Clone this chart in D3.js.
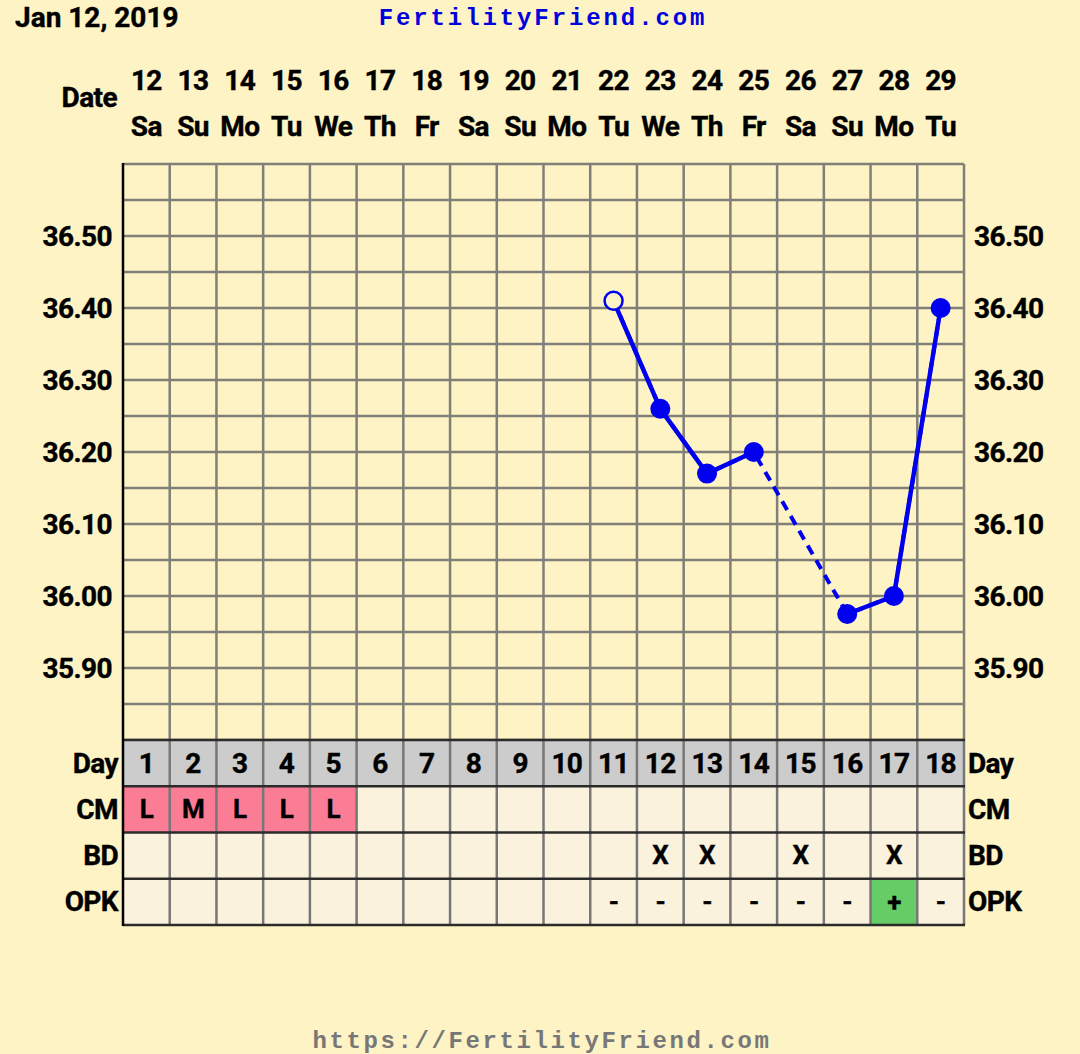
<!DOCTYPE html>
<html>
<head>
<meta charset="utf-8">
<script src="https://cdn.jsdelivr.net/npm/d3@7"></script>
<style>
  body { margin: 0; background: #fdf3c5; }
  svg { display: block; }
  .lbl { font-family: Roboto, "Liberation Sans", sans-serif; font-weight: bold; font-size: 28px; letter-spacing: -0.6px; fill: #000; stroke: #000; stroke-width: 0.4px; }
  .mono { font-family: "Courier New", "Liberation Mono", monospace; font-weight: bold; }
</style>
</head>
<body>
<svg id="chart"></svg>
<script>
document.addEventListener("DOMContentLoaded", function() {
  const width = 1080;
  const height = 1054;

  // chart data
  const cycleDays = [1, 2, 3, 4, 5, 6, 7, 8, 9, 10, 11, 12, 13, 14, 15, 16, 17, 18];
  const dates = [12, 13, 14, 15, 16, 17, 18, 19, 20, 21, 22, 23, 24, 25, 26, 27, 28, 29];
  const weekdays = ["Sa", "Su", "Mo", "Tu", "We", "Th", "Fr", "Sa", "Su", "Mo", "Tu", "We", "Th", "Fr", "Sa", "Su", "Mo", "Tu"];
  const temps = [null, null, null, null, null, null, null, null, null, null, 36.41, 36.26, 36.17, 36.20, null, 35.975, 36.00, 36.40];
  const openPoints = [11];
  const cm = ["L", "M", "L", "L", "L", "", "", "", "", "", "", "", "", "", "", "", "", ""];
  const bd = ["", "", "", "", "", "", "", "", "", "", "", "X", "X", "", "X", "", "X", ""];
  const opk = ["", "", "", "", "", "", "", "", "", "", "-", "-", "-", "-", "-", "-", "+", "-"];
  const tempTicks = [36.50, 36.40, 36.30, 36.20, 36.10, 36.00, 35.90];

  const bg = "#fdf3c5";
  const blue = "#0000ee";

  let svg = d3.select("#chart")
              .attr("width", width)
              .attr("height", height);

  let x = d3.scaleBand()
            .domain(cycleDays)
            .range([123, 964]);
  let y = d3.scaleLinear()
            .domain([35.80, 36.60])
            .range([740, 164]);
  let cx = d => x(d) + x.bandwidth() / 2;

  //titles
  svg.append("text")
     .attr("class", "lbl")
     .attr("x", 15).attr("y", 27)
     .style("letter-spacing", "0px")
     .text("Jan 12, 2019");

  svg.append("text")
     .attr("class", "mono")
     .attr("x", 543).attr("y", 25)
     .attr("text-anchor", "middle")
     .style("font-size", "24px")
     .style("letter-spacing", "2.9px")
     .style("fill", "#0000dd")
     .text("FertilityFriend.com");

  svg.append("text")
     .attr("class", "mono")
     .attr("x", 542).attr("y", 1048)
     .attr("text-anchor", "middle")
     .style("font-size", "24px")
     .style("letter-spacing", "2.6px")
     .style("fill", "#777")
     .text("https://FertilityFriend.com");

  //date header
  svg.append("text")
     .attr("class", "lbl")
     .attr("x", 117).attr("y", 107)
     .attr("text-anchor", "end")
     .text("Date");

  svg.selectAll(".date")
     .data(cycleDays)
     .enter().append("text")
       .attr("class", "lbl date")
       .attr("x", d => cx(d))
       .attr("y", 90)
       .attr("text-anchor", "middle")
       .text((d, i) => dates[i]);

  svg.selectAll(".wday")
     .data(cycleDays)
     .enter().append("text")
       .attr("class", "lbl wday")
       .attr("x", d => cx(d))
       .attr("y", 136)
       .attr("text-anchor", "middle")
       .text((d, i) => weekdays[i]);

  //grid
  let hLines = d3.range(35.80, 36.6001, 0.05);
  svg.selectAll(".hgrid")
     .data(hLines)
     .enter().append("line")
       .attr("x1", 123).attr("x2", 964)
       .attr("y1", d => y(d)).attr("y2", d => y(d))
       .style("stroke", "#807f78")
       .style("stroke-width", 2.5);

  svg.selectAll(".vgrid")
     .data(cycleDays.slice(1).concat([null]))
     .enter().append("line")
       .attr("x1", d => d === null ? 964 : x(d))
       .attr("x2", d => d === null ? 964 : x(d))
       .attr("y1", y(36.60)).attr("y2", 740)
       .style("stroke", "#807f78")
       .style("stroke-width", 2.5);

  //y axes
  let leftAxis = d3.axisLeft(y)
                   .tickValues(tempTicks)
                   .tickSize(0)
                   .tickPadding(0)
                   .tickFormat(d3.format(".2f"));
  let la = svg.append("g")
              .attr("transform", "translate(112,0)")
              .call(leftAxis);
  la.select(".domain").remove();
  la.selectAll("text")
    .attr("class", "lbl")
    .attr("dy", "0.33em")
    .style("font-size", "28px");

  let rightAxis = d3.axisRight(y)
                    .tickValues(tempTicks)
                    .tickSize(0)
                    .tickPadding(0)
                    .tickFormat(d3.format(".2f"));
  let ra = svg.append("g")
              .attr("transform", "translate(974,0)")
              .call(rightAxis);
  ra.select(".domain").remove();
  ra.selectAll("text")
    .attr("class", "lbl")
    .attr("dy", "0.33em")
    .style("font-size", "28px");

  //bottom table
  const rows = [
    { name: "Day", values: cycleDays.map(String), fill: () => "#cccccc" },
    { name: "CM", values: cm, fill: v => v ? "#fb7d95" : "#fbf2de" },
    { name: "BD", values: bd, fill: () => "#fbf2de" },
    { name: "OPK", values: opk, fill: v => v === "+" ? "#66cc66" : "#fbf2de" }
  ];
  let rowY = d3.scaleBand()
               .domain(rows.map(r => r.name))
               .range([740, 925]);

  rows.forEach(function(r) {
    let g = svg.append("g");
    g.selectAll("rect")
     .data(cycleDays)
     .enter().append("rect")
       .attr("x", d => x(d))
       .attr("y", rowY(r.name))
       .attr("width", x.bandwidth())
       .attr("height", rowY.bandwidth())
       .style("fill", (d, i) => r.fill(r.values[i]));
    g.selectAll("text")
     .data(cycleDays)
     .enter().append("text")
       .attr("class", "lbl")
       .attr("x", d => cx(d))
       .attr("y", rowY(r.name) + rowY.bandwidth() / 2)
       .attr("dy", "0.34em")
       .attr("text-anchor", "middle")
       .style("font-size", r.name === "Day" ? "28px" : "26px")
       .text((d, i) => r.values[i]);
    svg.append("text")
       .attr("class", "lbl")
       .attr("x", 118)
       .attr("y", rowY(r.name) + rowY.bandwidth() / 2)
       .attr("dy", "0.34em")
       .attr("text-anchor", "end")
       .text(r.name);
    svg.append("text")
       .attr("class", "lbl")
       .attr("x", 968)
       .attr("y", rowY(r.name) + rowY.bandwidth() / 2)
       .attr("dy", "0.34em")
       .text(r.name);
  });

  //table lines
  svg.selectAll(".tv")
     .data(cycleDays.slice(1).concat([null]))
     .enter().append("line")
       .attr("x1", d => d === null ? 964 : x(d))
       .attr("x2", d => d === null ? 964 : x(d))
       .attr("y1", 740).attr("y2", 925)
       .style("stroke", "#777")
       .style("stroke-width", 2.5);

  svg.selectAll(".th")
     .data(rows.map(r => rowY(r.name)).concat([925]))
     .enter().append("line")
       .attr("x1", 123).attr("x2", 965)
       .attr("y1", d => d).attr("y2", d => d)
       .style("stroke", "#2b2b2b")
       .style("stroke-width", 2.5);

  //left axis line
  svg.append("line")
     .attr("x1", 123).attr("x2", 123)
     .attr("y1", y(36.60) - 1).attr("y2", 926)
     .style("stroke", "#000")
     .style("stroke-width", 2.5);

  //temperature line
  let pts = cycleDays.map((d, i) => ({ day: d, t: temps[i] }));
  let line = d3.line()
               .defined(d => d.t !== null)
               .x(d => cx(d.day))
               .y(d => y(d.t));

  let known = pts.filter(d => d.t !== null);
  svg.append("path")
     .datum(known)
     .attr("d", line)
     .style("fill", "none")
     .style("stroke", blue)
     .style("stroke-width", 4)
     .style("stroke-dasharray", "10,7");

  svg.append("path")
     .datum(pts)
     .attr("d", line)
     .style("fill", "none")
     .style("stroke", blue)
     .style("stroke-width", 4.5);

  svg.selectAll(".pt")
     .data(known)
     .enter().append("circle")
       .attr("cx", d => cx(d.day))
       .attr("cy", d => y(d.t))
       .attr("r", d => openPoints.includes(d.day) ? 9 : 10)
       .style("fill", d => openPoints.includes(d.day) ? bg : blue)
       .style("stroke", blue)
       .style("stroke-width", d => openPoints.includes(d.day) ? 2.5 : 0);
});
</script>
</body>
</html>
